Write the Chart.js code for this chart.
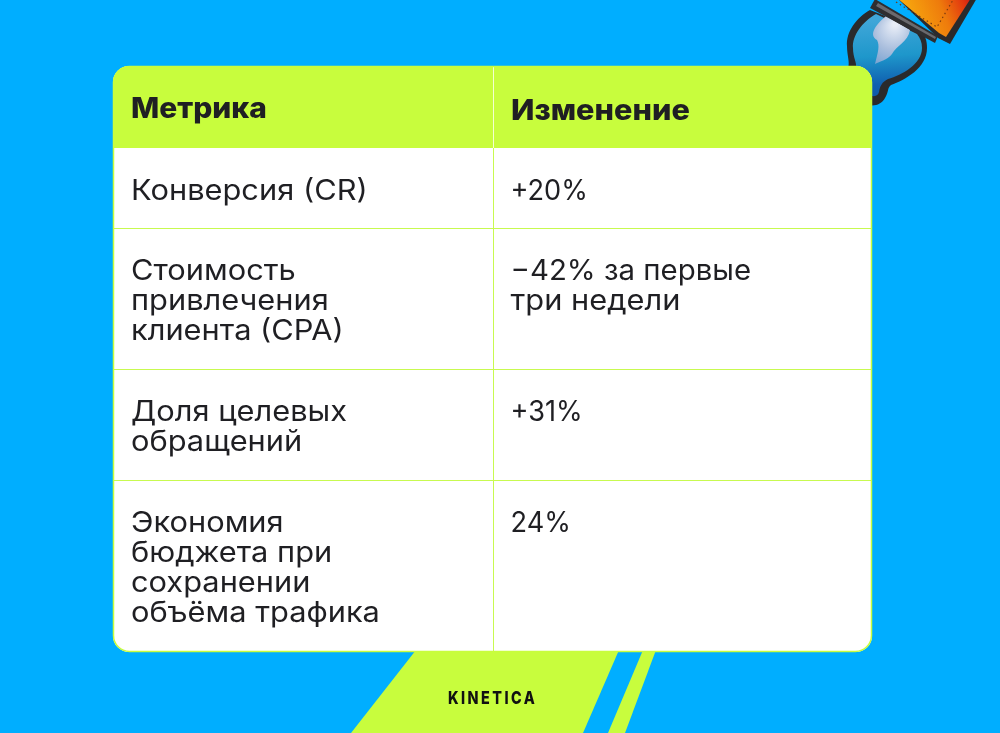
<!DOCTYPE html>
<html lang="ru"><head><meta charset="utf-8">
<style>html,body{margin:0;padding:0;background:#00AEFF;overflow:hidden}canvas{display:block}</style>
<script src="https://cdn.jsdelivr.net/npm/chart.js@4"></script></head>
<body><canvas id="c" width="1000" height="733"></canvas>
<script>
const headers = ["Метрика", "Изменение"];
const metrics = [
  ["Конверсия (CR)"],
  ["Стоимость", "привлечения", "клиента (CPA)"],
  ["Доля целевых", "обращений"],
  ["Экономия", "бюджета при", "сохранении", "объёма трафика"]
];
const changes = [
  ["+20%"],
  ["−42% за первые", "три недели"],
  ["+31%"],
  ["24%"]
];
const brand = "KINETICA";

const BLUE = "#00AEFF", GREEN = "#C8FD3D", INK = "#1F1F23", RULE = "#C8FA50";
const FONT = '"Inter", "Noto Sans", sans-serif';
const T = {l:113, r:872, t:66, b:652, split:493, head:148, padX:18, line:30, rowPad:50.7, radius:16};

function poly(ctx, pts, fill){ ctx.beginPath(); pts.forEach((p,i)=>i?ctx.lineTo(p[0],p[1]):ctx.moveTo(p[0],p[1])); ctx.closePath(); ctx.fillStyle=fill; ctx.fill(); }
function stretchOf(s){ if(!/\p{L}/u.test(s)) return 0.97; return /\d/.test(s) ? 1.05 : 1.10; }
function wideText(ctx,s,x,y,k){ ctx.save(); ctx.translate(x,y); ctx.scale(k,1); ctx.fillText(s,0,0); ctx.restore(); }

const tablePlugin = {
  id:"tablePlugin",
  beforeDatasetsDraw(chart){
    const ctx = chart.ctx, X = v=>chart.scales.x.getPixelForValue(v), Y = v=>chart.scales.y.getPixelForValue(v);
    const P = a=>a.map(p=>[X(p[0]),Y(p[1])]);
    ctx.save();
    ctx.fillStyle = BLUE; ctx.fillRect(0,0,chart.width,chart.height);
    // bottom ribbons
    poly(ctx,P([[416,650],[619,650],[583,733],[351,733]]),GREEN);
    poly(ctx,P([[643,650],[656,650],[625,733],[608,733]]),GREEN);
    // rocket flame
    ctx.fillStyle="#2A2A2C";
    ctx.fill(new Path2D("M870 10 C856 18 846 32 847 46 C847 56 850 62 848 68 L860 100 C866 107 880 108 885 98 C889 92 887 88 891 85 C905 80 927 68 927 48 C927 40 925 36 921 30 Z"));
    const gr = ctx.createLinearGradient(880,20,885,100); gr.addColorStop(0,"#3FA6D8"); gr.addColorStop(.45,"#1E97CB"); gr.addColorStop(.8,"#1060B0"); gr.addColorStop(1,"#0F58A8");
    ctx.fillStyle=gr;
    ctx.fill(new Path2D("M876 14 C862 22 852 36 853 48 C853 58 857 62 856 68 L868 94 C874 98 878 96 879 92 C880 86 882 82 888 79 C902 75 922 64 922 48 C922 42 920 38 917 34 Z"));
    const glow = ctx.createRadialGradient(895,24,2,892,36,30); glow.addColorStop(0,"#E8EDF7"); glow.addColorStop(.6,"#A9BEDD"); glow.addColorStop(1,"#7FA6D2");
    ctx.fillStyle=glow;
    ctx.fill(new Path2D("M886 16 L910 30 C908 42 896 46 892 54 C888 60 878 62 875 64 C878 52 880 46 877 40 C870 36 872 28 886 16 Z"));
    // body
    poly(ctx,[[897,-2],[977,-2],[950,44],[938,38]],"#2A2A2C");
    const bd = ctx.createLinearGradient(905,28,975,0); bd.addColorStop(0,"#F9B10E"); bd.addColorStop(.55,"#EE7B0C"); bd.addColorStop(.85,"#E2350F"); bd.addColorStop(1,"#C0141A");
    poly(ctx,[[897,-2],[971,-2],[946,37],[939,33]],bd);
    ctx.beginPath(); ctx.moveTo(896,2); ctx.lineTo(937,27); ctx.lineTo(953,0);
    ctx.setLineDash([1.5,3]); ctx.strokeStyle="#7A3A10"; ctx.lineWidth=1.2; ctx.stroke(); ctx.setLineDash([]);
    // nozzle
    poly(ctx,[[875,-1],[938,36],[935,43],[870,8]],"#2E2E30");
    poly(ctx,[[878,3],[936,37],[935,39],[876,6]],"#6A6A6E");
    // card
    ctx.beginPath(); ctx.roundRect(X(T.l),Y(T.t),X(T.r)-X(T.l),Y(T.b)-Y(T.t),T.radius); ctx.fillStyle="#FFFFFF"; ctx.fill();
    ctx.save(); ctx.clip();
    ctx.fillStyle=GREEN; ctx.fillRect(X(T.l),Y(T.t),X(T.r)-X(T.l),Y(T.head)-Y(T.t));
    // grid rules and text
    ctx.fillStyle="#F4FFD0"; ctx.fillRect(X(T.split),Y(T.t),1,Y(T.head)-Y(T.t));
    ctx.fillStyle=RULE; ctx.fillRect(X(T.split),Y(T.head),1,Y(T.b)-Y(T.head));
    ctx.textBaseline="alphabetic"; ctx.textAlign="left"; ctx.fillStyle=INK;
    ctx.font='800 28px '+FONT;
    wideText(ctx,headers[0],X(T.l+T.padX),Y(118),1.07);
    wideText(ctx,headers[1],X(T.split+T.padX),Y(120),1.095);
    ctx.font='400 28px '+FONT;
    let top=T.head;
    metrics.forEach((m,i)=>{
      const rows=Math.max(m.length,changes[i].length);
      const bottom=top+T.rowPad+T.line*rows;
      if(i<metrics.length-1){ctx.fillStyle=RULE;ctx.fillRect(X(T.l),Math.floor(Y(bottom)),X(T.r)-X(T.l),1);}
      ctx.fillStyle=INK;
      m.forEach((s,j)=>wideText(ctx,s,X(T.l+T.padX),Y(top+51.5+T.line*j),stretchOf(s)));
      changes[i].forEach((s,j)=>wideText(ctx,s,X(T.split+T.padX-.5),Y(top+51.5+T.line*j),stretchOf(s)));
      top=bottom;
    });
    ctx.restore();
    ctx.beginPath(); ctx.roundRect(X(T.l)+.5,Y(T.t)+.5,X(T.r)-X(T.l)-1,Y(T.b)-Y(T.t)-1,T.radius); ctx.strokeStyle=GREEN; ctx.lineWidth=1.5; ctx.stroke();
    // brand
    ctx.fillStyle="#111111"; ctx.font='800 17.5px "Inter",sans-serif'; ctx.letterSpacing="3px";
    wideText(ctx,brand,X(448),Y(703.5),.82);
    ctx.restore();
  }
};

new Chart(document.getElementById("c"),{
  type:"scatter",
  data:{datasets:[{data:metrics.map((m,i)=>({x:T.l+T.padX,y:T.head})),pointRadius:0}]},
  options:{
    responsive:false,animation:false,devicePixelRatio:1,
    layout:{padding:0},
    plugins:{legend:{display:false},tooltip:{enabled:false},title:{display:false}},
    scales:{
      x:{type:"linear",min:0,max:1000,display:false},
      y:{type:"linear",min:0,max:733,reverse:true,display:false}
    }
  },
  plugins:[tablePlugin]
});
</script></body></html>
